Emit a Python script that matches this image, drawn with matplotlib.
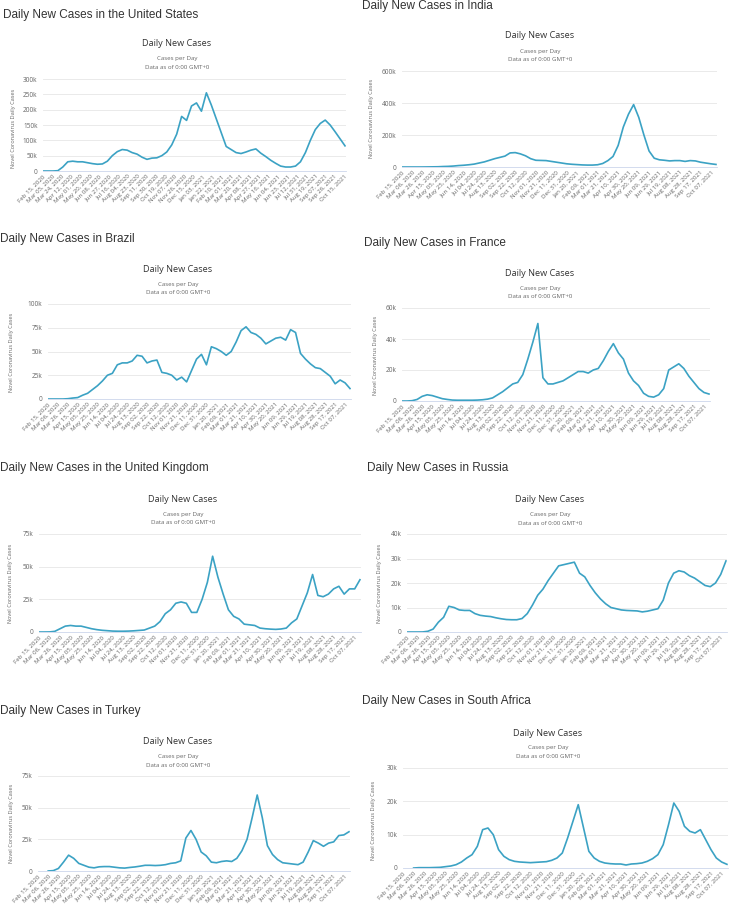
import numpy as np
import pandas as pd
import matplotlib
matplotlib.use("Agg")
import matplotlib.pyplot as plt

# ---- data: 7-day average daily cases (thousands), sampled every 10 days from Feb 15, 2020
start_date = pd.Timestamp("2020-02-15")
last_day = 612
days = np.arange(0, 620, 10)

us_cases = [0, 0, 0, 1, 13, 30, 32, 30, 30, 27,
            24, 22, 23, 32, 50, 63, 70, 68, 60, 55,
            45, 38, 42, 43, 50, 62, 85, 120, 178, 165,
            212, 222, 195, 255, 215, 170, 125, 80, 70, 60,
            57, 62, 68, 72, 58, 47, 35, 25, 16, 13,
            13, 16, 30, 60, 100, 135, 155, 166, 150, 128,
            105, 82]

india_cases = [0, 0, 0, 0, 0.1, 0.5, 1, 1.5, 3, 4,
               6, 9, 11, 14, 18, 25, 32, 42, 52, 60,
               68, 88, 90, 82, 70, 52, 42, 41, 40, 35,
               30, 25, 20, 17, 15, 13, 12, 12, 14, 22,
               40, 66, 135, 250, 330, 390, 310, 200, 100, 55,
               45, 42, 38, 40, 40, 35, 40, 38, 30, 25,
               20, 16]

brazil_cases = [0, 0, 0, 0, 0.3, 1, 1.5, 4, 6, 10,
                14, 19, 25, 27, 36, 38, 38, 40, 46, 45,
                38, 40, 41, 28, 27, 25, 20, 23, 18, 30,
                42, 47, 36, 55, 53, 50, 46, 50, 60, 72,
                76, 70, 68, 64, 58, 61, 64, 65, 62, 73,
                70, 48, 42, 37, 33, 32, 28, 24, 16, 20,
                17, 11]

france_cases = [0, 0, 0.2, 1, 3, 4, 3.5, 2.5, 1.5, 1,
                0.6, 0.5, 0.5, 0.5, 0.5, 0.6, 0.8, 1.2, 2, 4,
                6, 8.5, 11, 12, 17, 27, 38, 50, 15, 11,
                11, 12, 13, 15, 17, 19, 19, 18, 20, 21,
                26, 32, 37, 31, 27, 18, 13, 10, 5, 3,
                2.5, 4, 8, 20, 22, 24, 21, 16, 12, 8,
                5.5, 4.5]

uk_cases = [0, 0, 0.05, 0.5, 2.5, 4.5, 5, 4.5, 4.5, 3.5,
            2.5, 1.8, 1.3, 1, 0.7, 0.6, 0.6, 0.7, 0.9, 1.2,
            1.5, 3, 4.5, 8, 14, 17, 22, 23, 22, 15,
            15, 25, 38, 58, 42, 29, 17, 12, 10, 6,
            5.5, 5, 3, 2.5, 2.2, 2, 2.3, 3, 7, 10,
            20, 30, 44, 28, 27, 29, 33, 35, 29, 33,
            33, 40]

russia_cases = [0, 0, 0, 0.02, 0.3, 1.2, 4, 6, 10.5, 10,
                9, 8.8, 8.8, 7.5, 6.8, 6.5, 6.3, 5.8, 5.4, 5.1,
                5, 5, 5.5, 7.5, 11, 15, 17.5, 21, 24, 27,
                27.5, 28, 28.5, 24, 22.5, 19, 16, 13.5, 11.5, 10,
                9.5, 9, 8.8, 8.7, 8.6, 8.2, 8.5, 9, 9.5, 13,
                20, 24, 25, 24.5, 23, 22, 20.5, 19, 18.5, 20,
                23.5, 29]

turkey_cases = [np.nan, np.nan, 0, 0.3, 2, 7, 12.5, 10, 6, 4.5,
                3, 2.5, 3.3, 3.5, 3.5, 3, 2.5, 2.3, 2.8, 3.2,
                3.8, 4.5, 4.5, 4.3, 4.5, 5, 6, 6.5, 8, 26,
                32, 25, 15, 12, 7, 6.5, 7.5, 8, 7.5, 10,
                16, 25, 42, 60, 42, 20, 13, 9, 6.5, 6,
                5.5, 5, 7, 15, 24, 22, 19.5, 22, 23, 28,
                28.5, 31]

sa_cases = [np.nan, np.nan, 0, 0.1, 0.1, 0.1, 0.15, 0.2, 0.4, 0.6,
            1, 1.8, 3, 4, 6.5, 11.5, 12, 10, 5.5, 3.5,
            2.5, 2, 1.8, 1.7, 1.6, 1.7, 1.8, 1.9, 2.3, 3,
            4.5, 9, 14, 19, 12, 5, 3, 2, 1.5, 1.3,
            1.2, 1.2, 0.9, 1.2, 1.3, 1.5, 2, 2.8, 4, 7,
            13, 19.5, 17, 12.5, 11, 10.5, 11.5, 8.5, 5.5, 3,
            1.8, 1.1]

countries = ["the United States", "India", "Brazil", "France",
             "the United Kingdom", "Russia", "Turkey", "South Africa"]
series = [us_cases, india_cases, brazil_cases, france_cases,
          uk_cases, russia_cases, turkey_cases, sa_cases]
y_max = [300, 600, 100, 60, 75, 40, 75, 30]
y_step = [50, 200, 25, 20, 25, 10, 25, 10]
tick_step = [19, 20, 20, 20, 20, 20, 20, 20]

# ---- layout in pixels: plot box (x0, x1, ytop, ybot), outer title, chart title, subtitle lines, y label
layout = [
    dict(box=(43, 346, 79, 171), outer=(3, 15), ct=(177, 44), sub=(59, 67), ylab=(14, 128)),
    dict(box=(402, 717, 71, 167), outer=(362, 6), ct=(540, 36), sub=(52, 59), ylab=(371, 118)),
    dict(box=(48, 351, 304, 399), outer=(0, 239), ct=(178, 269), sub=(285, 292), ylab=(12, 352)),
    dict(box=(402, 710, 308, 401), outer=(364, 243), ct=(540, 274), sub=(289, 296), ylab=(375, 355)),
    dict(box=(39, 361, 534, 632), outer=(0, 468), ct=(183, 499), sub=(515, 522), ylab=(11, 583)),
    dict(box=(407, 727, 534, 632), outer=(367, 468), ct=(550, 499), sub=(515, 523), ylab=(379, 583)),
    dict(box=(38, 350, 776, 871), outer=(0, 711), ct=(178, 742), sub=(757, 765), ylab=(12, 823)),
    dict(box=(403, 728, 768, 868), outer=(362, 701), ct=(548, 733), sub=(748, 756), ylab=(373, 820)),
]

W, H = 729, 906
LINE = "#3ba2c4"
fig = plt.figure(figsize=(W / 100, H / 100), dpi=100)
fig.patch.set_facecolor("white")


def ftext(x, y, s, **kw):
    fig.text(x / W, 1 - y / H, s, **kw)


for name, vals, ymx, ystp, tstep, lay in zip(countries, series, y_max, y_step, tick_step, layout):
    x0, x1, yt, yb = lay["box"]
    ax = fig.add_axes([x0 / W, 1 - yb / H, (x1 - x0) / W, (yb - yt) / H])
    ax.plot(days, np.array(vals, dtype=float) * 1000, color=LINE, lw=1.2)
    ax.set_xlim(0, last_day)
    ax.set_ylim(0, ymx * 1000)

    yticks = np.arange(0, ymx + ystp, ystp)
    ax.set_yticks(yticks * 1000)
    ax.set_yticklabels(["0" if v == 0 else f"{v:g}k" for v in yticks])
    ax.grid(axis="y", color="#e6e6e6", lw=0.6)
    ax.set_axisbelow(True)

    xt = np.arange(0, last_day + 1, tstep)
    ax.set_xticks(xt)
    ax.set_xticklabels([(start_date + pd.Timedelta(days=int(d))).strftime("%b %d, %Y") for d in xt],
                       rotation=45, ha="right", va="top", rotation_mode="anchor")
    ax.tick_params(axis="x", length=0, pad=2, labelsize=4.4, labelcolor="#666666")
    ax.tick_params(axis="y", length=0, pad=4, labelsize=4.7, labelcolor="#666666")
    for t in ax.get_xticklabels() + ax.get_yticklabels():
        t.set_fontfamily("Open Sans")
    for s in ["top", "right", "left"]:
        ax.spines[s].set_visible(False)
    ax.spines["bottom"].set_color("#ccd6eb")
    ax.spines["bottom"].set_linewidth(0.6)

    ox, oy = lay["outer"]
    ftext(ox, oy, f"Daily New Cases in {name}", ha="left", va="center",
          fontsize=8.5, color="#333333", family="Liberation Sans")
    cx, cy = lay["ct"]
    ftext(cx, cy, "Daily New Cases", ha="center", va="center",
          fontsize=6.6, color="#333333", family="Open Sans")
    s1, s2 = lay["sub"]
    ftext(cx, s1 - 0.5, "Cases per Day", ha="center", va="center",
          fontsize=4.4, color="#666666", family="Open Sans")
    ftext(cx, s2 + 0.5, "Data as of 0:00 GMT+0", ha="center", va="center",
          fontsize=4.4, color="#666666", family="Open Sans")
    lx, ly = lay["ylab"]
    ftext(lx, ly, "Novel Coronavirus Daily Cases", ha="center", va="center", rotation=90,
          fontsize=4.1, color="#666666", family="Open Sans")

fig.savefig("out.png", dpi=100, facecolor="white")
